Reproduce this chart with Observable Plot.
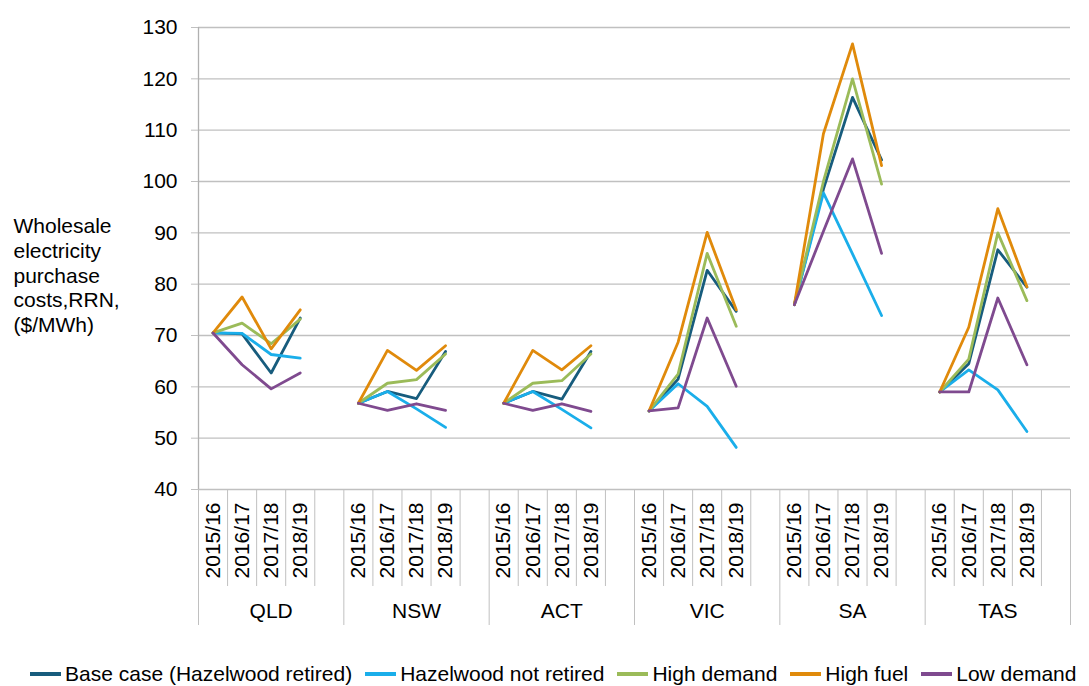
<!DOCTYPE html>
<html>
<head>
<meta charset="utf-8">
<script src="https://cdn.jsdelivr.net/npm/d3@7"></script>
<script src="https://cdn.jsdelivr.net/npm/@observablehq/plot@0.6"></script>
<style>
  html, body { margin: 0; padding: 0; background: #fff; }
  body { width: 1089px; height: 686px; overflow: hidden; font-family: "Liberation Sans", Arial, sans-serif; }
  #legend { display: flex; align-items: center; height: 24px; padding-left: 30px; font-size: 21px; color: #000; white-space: nowrap; }
  .item { display: flex; align-items: center; margin-right: 13px; }
  .sw { width: 31px; height: 4px; margin-right: 4px; }
</style>
</head>
<body>
<div id="chart"></div>
<div id="legend"></div>
<script>
const regions = ["QLD", "NSW", "ACT", "VIC", "SA", "TAS"];
const years = ["2015/16", "2016/17", "2017/18", "2018/19"];
const seriesNames = ["Base case (Hazelwood retired)", "Hazelwood not retired", "High demand", "High fuel", "Low demand"];
const seriesColors = ["#175c7d", "#1aaeea", "#9bbb59", "#e08a0b", "#7f4a8f"];
const yTicks = [40, 50, 60, 70, 80, 90, 100, 110, 120, 130];
const yLabel = "Wholesale\nelectricity\npurchase\ncosts,RRN,\n($/MWh)";

// values per region (QLD, NSW, ACT, VIC, SA, TAS) x years
const baseCase = [
  70.5, 70.3, 62.7, 73.4,
  56.8, 59.1, 57.7, 66.9,
  56.8, 59.1, 57.6, 66.9,
  55.3, 61.5, 82.7, 74.7,
  76.0, 98.5, 116.4, 104.2,
  59.0, 64.5, 86.7, 79.4
];
const hazelwoodNotRetired = [
  70.5, 70.4, 66.3, 65.6,
  56.8, 59.1, 55.7, 52.1,
  56.8, 59.1, 55.6, 52.0,
  55.3, 60.6, 56.2, 48.2,
  76.0, 97.8, 85.9, 73.9,
  59.0, 63.3, 59.4, 51.3
];
const highDemand = [
  70.5, 72.4, 68.4, 73.2,
  56.8, 60.7, 61.4, 66.4,
  56.8, 60.7, 61.2, 66.4,
  55.3, 62.5, 86.0, 71.8,
  76.0, 100.0, 120.0, 99.5,
  59.0, 65.4, 90.0, 76.8
];
const highFuel = [
  70.5, 77.5, 67.4, 75.0,
  56.8, 67.1, 63.2, 68.0,
  56.8, 67.1, 63.3, 68.0,
  55.3, 68.7, 90.1, 75.0,
  76.0, 109.3, 126.8, 103.1,
  59.0, 71.6, 94.7, 79.5
];
const lowDemand = [
  70.5, 64.3, 59.6, 62.7,
  56.8, 55.4, 56.7, 55.4,
  56.8, 55.4, 56.7, 55.2,
  55.3, 55.9, 73.4, 60.1,
  76.0, 90.3, 104.4, 86.0,
  59.0, 59.0, 77.3, 64.3
];
const seriesValues = [baseCase, hazelwoodNotRetired, highDemand, highFuel, lowDemand];

const slots = years.length + 1; // 4 years + one blank slot per region
const nSlots = regions.length * slots;

const rows = [];
seriesValues.forEach((vals, si) => {
  vals.forEach((v, k) => {
    const ri = Math.floor(k / years.length), yi = k % years.length;
    rows.push({series: seriesNames[si], region: regions[ri], pos: ri * slots + yi + 0.5, value: v});
  });
});

const yearPositions = [];
regions.forEach((r, ri) => years.forEach((y, yi) => yearPositions.push(ri * slots + yi + 0.5)));
const innerBounds = d3.range(0, nSlots + 1).filter(i => i % slots !== 0);
const groupBounds = d3.range(0, nSlots + 1, slots);
const regionCenters = regions.map((r, ri) => ri * slots + slots / 2);

const font = "Liberation Sans, Arial, sans-serif";

const chart = Plot.plot({
  width: 1089,
  height: 662,
  marginLeft: 198,
  marginRight: 19,
  marginTop: 27,
  marginBottom: 173,
  style: {fontFamily: font, fontSize: "21px", color: "#000", background: "#fff"},
  x: {type: "linear", domain: [0, nSlots], label: null},
  y: {domain: [40, 130], label: null},
  color: {domain: seriesNames, range: seriesColors},
  marks: [
    Plot.ruleY(yTicks, {stroke: "#c0c0c0", strokeWidth: 1.3}),
    Plot.ruleX([0], {stroke: "#b0b0b0", strokeWidth: 1.3}),
    Plot.axisY({ticks: yTicks, tickSize: 7, tickPadding: 14, stroke: "#c0c0c0", fill: "#000", fontSize: 21, label: null}),
    Plot.axisX({ticks: innerBounds, tickSize: 97, stroke: "#c0c0c0", tickFormat: () => "", label: null}),
    Plot.axisX({ticks: groupBounds, tickSize: 136, stroke: "#c0c0c0", tickFormat: () => "", label: null}),
    Plot.axisX({ticks: yearPositions, tickSize: 0, tickPadding: 13, tickRotate: -90, fill: "#000", fontSize: 21,
      tickFormat: p => years[Math.floor(p) % slots], label: null}),
    Plot.axisX({ticks: regionCenters, tickSize: 0, tickPadding: 114, fill: "#000", fontSize: 21,
      tickFormat: p => regions[Math.floor(p / slots)], label: null}),
    Plot.text([yLabel], {frameAnchor: "left", dx: -185, dy: 16, textAnchor: "start", lineAnchor: "middle",
      lineHeight: 1.19, fontSize: 21, fill: "#000"}),
    Plot.line(rows, {x: "pos", y: "value", z: d => d.series + "|" + d.region, stroke: "series", strokeWidth: 2.8})
  ]
});
document.getElementById("chart").appendChild(chart);

const legend = document.getElementById("legend");
seriesNames.forEach((name, i) => {
  const item = document.createElement("div");
  item.className = "item";
  const sw = document.createElement("span");
  sw.className = "sw";
  sw.style.background = seriesColors[i];
  const t = document.createElement("span");
  t.textContent = name;
  item.appendChild(sw);
  item.appendChild(t);
  legend.appendChild(item);
});
</script>
</body>
</html>
